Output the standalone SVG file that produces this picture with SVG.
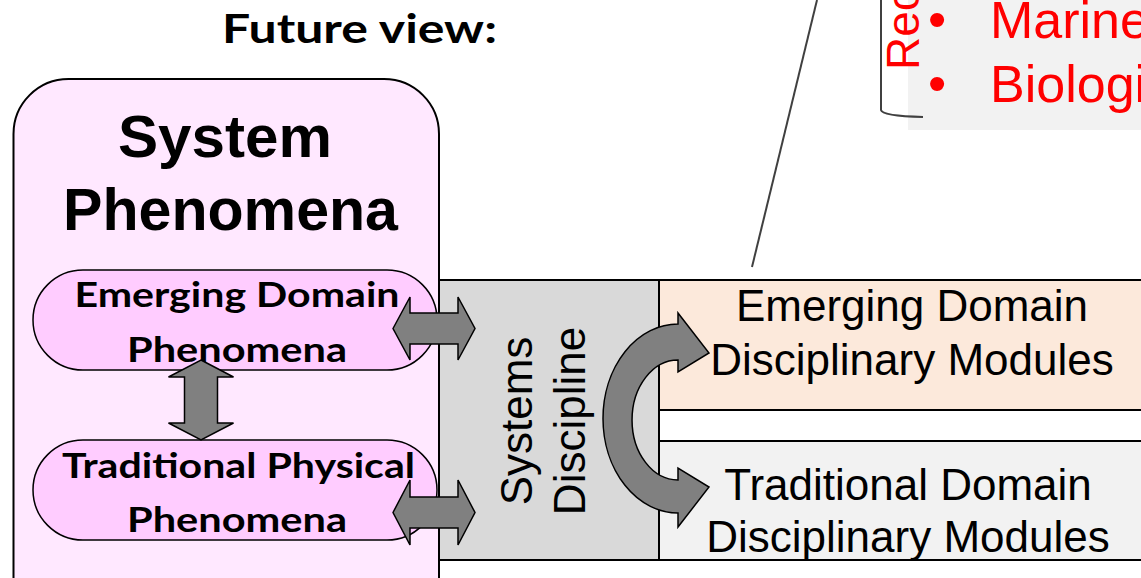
<svg xmlns="http://www.w3.org/2000/svg" width="1141" height="578" viewBox="0 0 1141 578">
<style>
.blk{fill:#000}
.bold{font-family:Lato,"Liberation Sans",sans-serif;font-weight:bold}
.arialb{font-family:"Liberation Sans",Arial,sans-serif;font-weight:bold}
.arial{font-family:"Liberation Sans",Arial,sans-serif}
.red{fill:#ff0000;font-family:"Liberation Sans",Arial,sans-serif}
.box{stroke:#000;stroke-width:2}
.arrow{fill:#808080;stroke:#000;stroke-width:1.5;stroke-linejoin:miter}
.pill{fill:#ffccff;stroke:#000;stroke-width:1.5}
.thin{fill:none;stroke:#404040;stroke-width:2}
</style>
<rect width="1141" height="578" fill="#fff"/>

<g id="callout">
  <rect x="908" y="0" width="233" height="130" fill="#f2f2f2"/>
  <path class="thin" d="M881,0 V110 Q882,116 923,117"/>
  <text class="red" font-size="46" transform="translate(919,70) rotate(-90)">Rec</text>
  <text class="red" font-size="52" x="928" y="37">•</text>
  <text class="red" font-size="52" x="990" y="38">Marine</text>
  <text class="red" font-size="52" x="928" y="101">•</text>
  <text class="red" font-size="52" x="990" y="102">Biologi</text>
</g>

<g id="title">
  <text class="bold blk" font-size="41" x="359.5" y="43" text-anchor="middle" textLength="275" lengthAdjust="spacingAndGlyphs">Future view:</text>
</g>

<g id="system-phenomena">
  <rect class="box" x="13.5" y="79" width="425.5" height="560" rx="55" ry="55" fill="#ffe8ff"/>
  <text class="arialb blk" font-size="59" x="225" y="157" text-anchor="middle" textLength="214" lengthAdjust="spacingAndGlyphs">System</text>
  <text class="arialb blk" font-size="59" x="230.5" y="230" text-anchor="middle" textLength="335" lengthAdjust="spacingAndGlyphs">Phenomena</text>
</g>

<g id="systems-discipline">
  <rect class="box" x="439" y="280" width="220" height="280" fill="#d9d9d9"/>
  <g transform="translate(532,421) rotate(-90)">
    <text class="arial blk" font-size="44" x="0" y="0" text-anchor="middle">Systems</text>
    <text class="arial blk" font-size="44" x="0" y="53" text-anchor="middle">Discipline</text>
  </g>
</g>

<g id="emerging-modules">
  <rect class="box" x="659" y="280" width="490" height="130" fill="#fce9db"/>
  <text class="arial blk" font-size="44" x="912" y="321" text-anchor="middle">Emerging Domain</text>
  <text class="arial blk" font-size="44" x="912" y="375" text-anchor="middle">Disciplinary Modules</text>
</g>

<g id="traditional-modules">
  <rect class="box" x="659" y="441" width="490" height="119" fill="#f2f2f2"/>
  <text class="arial blk" font-size="44" x="908" y="500" text-anchor="middle">Traditional Domain</text>
  <text class="arial blk" font-size="44" x="908" y="552" text-anchor="middle">Disciplinary Modules</text>
</g>

<g id="emerging-phenomena">
  <rect class="pill" x="33" y="270" width="404" height="100" rx="50" ry="50"/>
  <text class="bold blk" font-size="34" x="237" y="307" text-anchor="middle" textLength="325" lengthAdjust="spacingAndGlyphs">Emerging Domain</text>
  <text class="bold blk" font-size="34" x="237" y="362" text-anchor="middle" textLength="220" lengthAdjust="spacingAndGlyphs">Phenomena</text>
</g>

<g id="traditional-phenomena">
  <rect class="pill" x="33" y="440" width="404" height="100" rx="50" ry="50"/>
  <text class="bold blk" font-size="34" x="238.5" y="478" text-anchor="middle" textLength="353" lengthAdjust="spacingAndGlyphs">Traditional Physical</text>
  <text class="bold blk" font-size="34" x="237" y="532" text-anchor="middle" textLength="220" lengthAdjust="spacingAndGlyphs">Phenomena</text>
</g>

<g id="connectors">
  <line class="thin" x1="817" y1="0" x2="752" y2="267"/>
  <path class="arrow" d="M201,360 L233.5,377 L217.5,377 L217.5,423 L233.5,423 L201,440 L168.5,423 L184.5,423 L184.5,377 L168.5,377 Z"/>
  <path class="arrow" d="M393,328.5 L410,297 L410,313 L458,313 L458,297 L475,328.5 L458,360 L458,344 L410,344 L410,360 Z"/>
  <path class="arrow" d="M393,512.5 L410,480 L410,497 L458,497 L458,480 L475,512.5 L458,545 L458,528 L410,528 L410,545 Z"/>
  <path class="arrow" d="M678,324 L678,313 L709,353 L678,372 L678,360 A46,60 0 0 0 678,480 L678,468 L709,487 L678,527 L678,513 A75,94.5 0 0 1 678,324 Z"/>
</g>
</svg>
